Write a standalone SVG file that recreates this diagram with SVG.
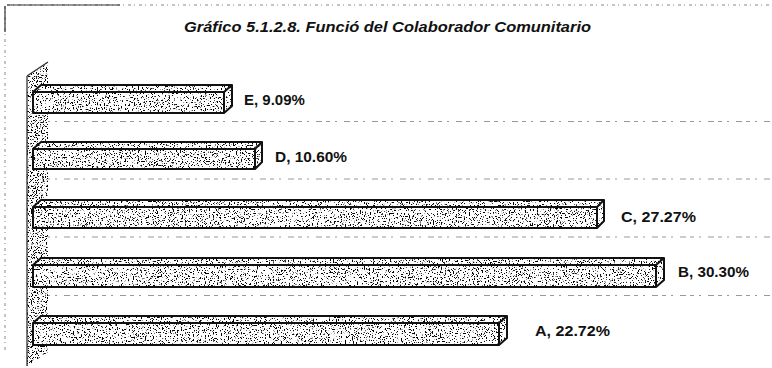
<svg xmlns="http://www.w3.org/2000/svg" width="772" height="368" viewBox="0 0 772 368">
<style>
.lbl{font-family:"Liberation Sans",Arial,sans-serif;font-weight:bold;font-size:15px;fill:#111}
.ttl{font-family:"Liberation Sans",Arial,sans-serif;font-weight:bold;font-style:italic;font-size:15.5px;fill:#111}
.face{fill:#fff}
.tex{fill:#000;filter:url(#speck)}
.tex2{fill:#000;filter:url(#speck2)}
.edge{fill:none;stroke:#111;stroke-width:2;stroke-linejoin:round}
.grid{stroke:#999;stroke-width:1;stroke-dasharray:4 5 2 7 6 4;fill:none}
.frame{stroke:#888;stroke-width:1;fill:none;stroke-dasharray:3 3 1 4}
</style>
<defs>
<filter id="speck" x="0" y="0" width="100%" height="100%" color-interpolation-filters="sRGB">
<feTurbulence type="fractalNoise" baseFrequency="0.75" numOctaves="2" seed="4"/>
<feColorMatrix type="matrix" values="0 0 0 0 0  0 0 0 0 0  0 0 0 0 0  14 0 0 0 -8.2"/>
<feComposite operator="in" in2="SourceGraphic"/>
</filter>
<filter id="speck2" x="0" y="0" width="100%" height="100%" color-interpolation-filters="sRGB">
<feTurbulence type="fractalNoise" baseFrequency="0.8" numOctaves="2" seed="9"/>
<feColorMatrix type="matrix" values="0 0 0 0 0  0 0 0 0 0  0 0 0 0 0  14 0 0 0 -7.9"/>
<feComposite operator="in" in2="SourceGraphic"/>
</filter>
</defs>
<rect width="772" height="368" fill="#fff"/>
<g id="frame">
<path class="frame" d="M7 5 H772"/>
<path d="M7 5 H120" stroke="#333" stroke-width="1.2" fill="none"/>
<path class="frame" d="M5 6 V350"/>
<path d="M5 6 V32" stroke="#333" stroke-width="1.2" fill="none"/>
</g>
<g id="title"><text class="ttl" x="184" y="32" textLength="407" lengthAdjust="spacingAndGlyphs">Gráfico 5.1.2.8. Funció del Colaborador Comunitario</text></g>
<g id="gridlines">
<path class="grid" d="M46 121.5 H772 M46 179 H772 M46 237 H772 M46 295.5 H772"/>
</g>
<g id="wall">
<polygon class="face" points="27,76 48,62 48,352 27,366"/>
<polygon class="tex2" points="27,76 48,62 48,352 27,366"/>
<path d="M27 76 L48 62 M27 76 V366" stroke="#333" stroke-width="1.3" fill="none"/>
</g>
<g id="bar-E">
<path class="face" d="M33 92 L41 85 H232 V106 L224 113 H33 Z"/>
<path class="tex" d="M33 92 L41 85 H232 V106 L224 113 H33 Z"/>
<path class="edge" d="M33 92 L41 85 H232 V106 L224 113 H33 Z M33 92 H224 L232 85 M224 92 V113"/>
<text class="lbl" x="244" y="105">E, 9.09%</text>
</g>
<g id="bar-D">
<path class="face" d="M33 149 L41 142 H262 V162 L255 169 H33 Z"/>
<path class="tex" d="M33 149 L41 142 H262 V162 L255 169 H33 Z"/>
<path class="edge" d="M33 149 L41 142 H262 V162 L255 169 H33 Z M33 149 H255 L262 142 M255 149 V169"/>
<text class="lbl" x="275" y="162" textLength="72" lengthAdjust="spacingAndGlyphs">D, 10.60%</text>
</g>
<g id="bar-C">
<path class="face" d="M33 207 L41 200 H604 V221 L597 228 H33 Z"/>
<path class="tex" d="M33 207 L41 200 H604 V221 L597 228 H33 Z"/>
<path class="edge" d="M33 207 L41 200 H604 V221 L597 228 H33 Z M33 207 H597 L604 200 M597 207 V228"/>
<text class="lbl" x="621" y="222" textLength="75" lengthAdjust="spacingAndGlyphs">C, 27.27%</text>
</g>
<g id="bar-B">
<path class="face" d="M33 265 L41 258 H664 V280 L656 287 H33 Z"/>
<path class="tex" d="M33 265 L41 258 H664 V280 L656 287 H33 Z"/>
<path class="edge" d="M33 265 L41 258 H664 V280 L656 287 H33 Z M33 265 H656 L664 258 M656 265 V287"/>
<text class="lbl" x="678" y="277" textLength="71" lengthAdjust="spacingAndGlyphs">B, 30.30%</text>
</g>
<g id="bar-A">
<path class="face" d="M33 323 L41 316 H507 V338 L499 345 H33 Z"/>
<path class="tex" d="M33 323 L41 316 H507 V338 L499 345 H33 Z"/>
<path class="edge" d="M33 323 L41 316 H507 V338 L499 345 H33 Z M33 323 H499 L507 316 M499 323 V345"/>
<text class="lbl" x="535" y="336" textLength="75" lengthAdjust="spacingAndGlyphs">A, 22.72%</text>
</g>
</svg>
